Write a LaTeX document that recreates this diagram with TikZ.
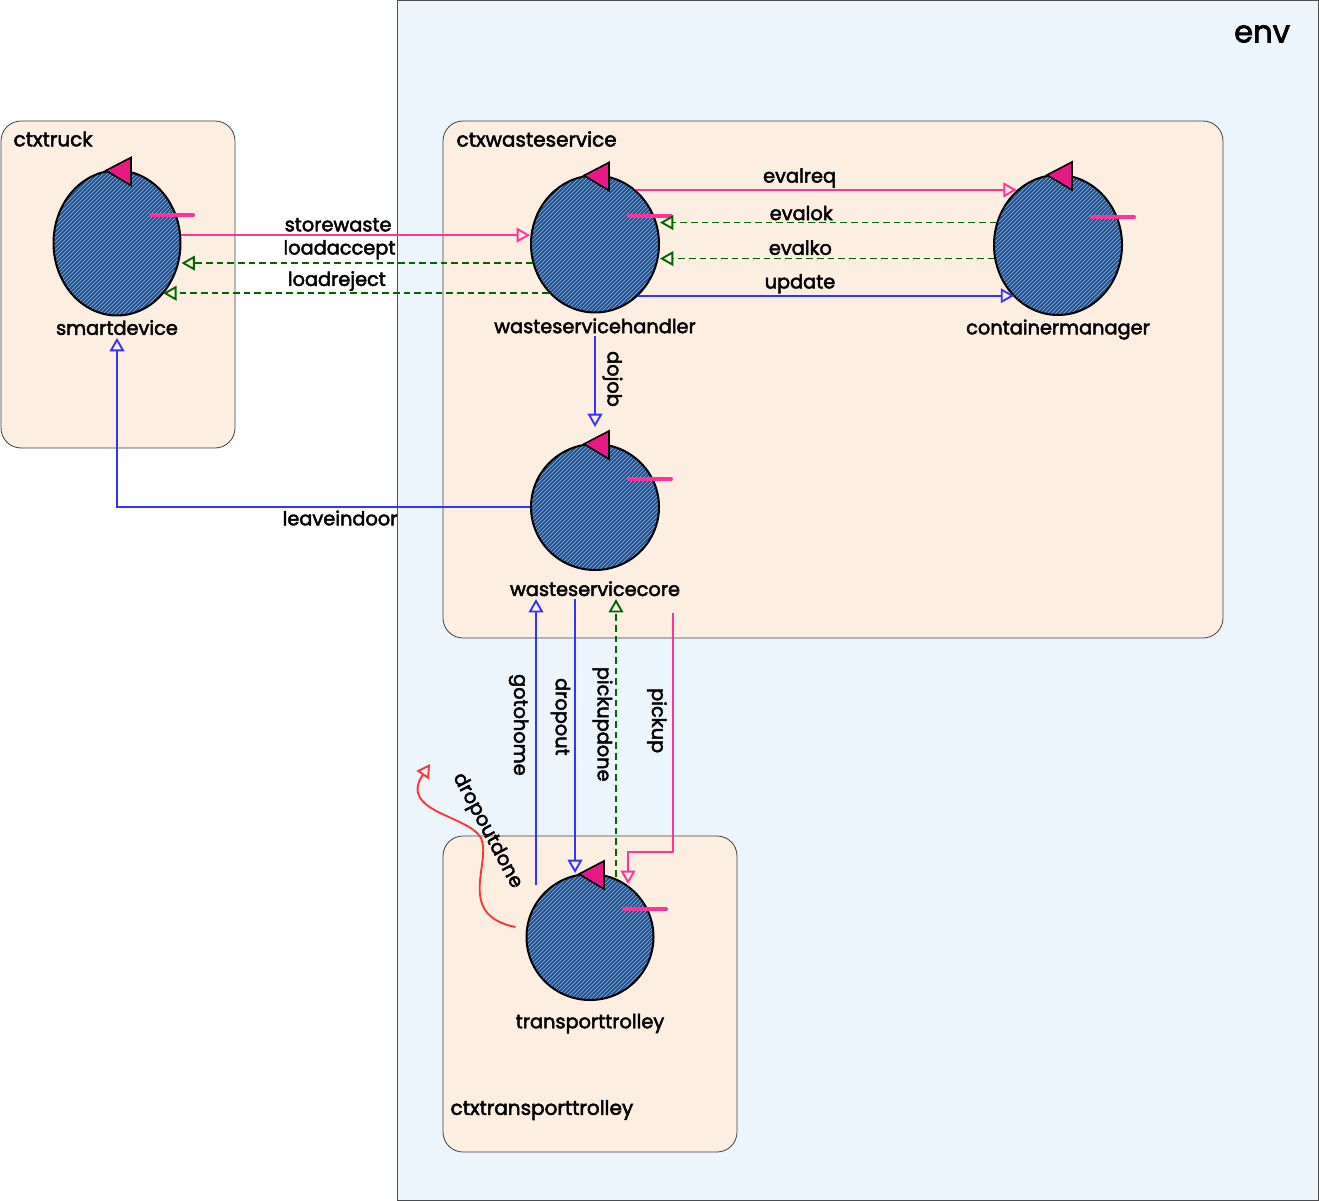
\documentclass[tikz,border=0pt]{standalone}
\usepackage{fontspec}
\setmainfont{Poppins}
\newfontfamily\sketchfont{Poppins}[FakeBold=2.5]
\usepackage{tikz}
\usetikzlibrary{shapes.geometric}
\usetikzlibrary{arrows}
\usetikzlibrary{arrows.meta}
\usetikzlibrary{positioning}
\usetikzlibrary{calc}
\usetikzlibrary{patterns}

\definecolor{envfill}{RGB}{236,244,252}
\definecolor{ctxfill}{RGB}{253,238,226}
\definecolor{actorblue}{RGB}{28,84,156}
\definecolor{tripink}{RGB}{232,24,133}
\definecolor{msgpink}{RGB}{255,51,153}
\definecolor{msggreen}{RGB}{0,102,0}
\definecolor{msgblue}{RGB}{51,51,255}
\definecolor{msgred}{RGB}{255,51,51}

\tikzset{
    ctxbox/.style = {draw=black!75, fill=ctxfill, rounded corners=15pt, line width=0.6pt},
    ctxlbl/.style = {anchor=west, font=\sketchfont\fontsize{15}{17}\selectfont, inner sep=1pt},
    actor/.style = {ellipse, draw=black, line width=1.5pt, preaction={fill=actorblue},
        pattern=north east lines, pattern color=white!55!actorblue, inner sep=0pt},
    actlbl/.style = {font=\sketchfont\fontsize{14.5}{16}\selectfont, inner sep=2pt},
    tri/.style = {draw=black, fill=tripink, line width=1.2pt, line join=miter},
    pinkbar/.style = {draw=msgpink, line width=3pt, line cap=round},
    lbl/.style = {font=\sketchfont\fontsize{14.5}{16}\selectfont, inner sep=2pt, text=black},
    msg/.style = {line width=1.4pt, -{Triangle[open, length=10pt, width=11pt]}},
    dashmsg/.style = {msg, dash pattern=on 5pt off 3pt}
}

% actor: name, x, y, width, height, label, gap
\newcommand{\actor}[7]{%
    \node[actor, minimum width=#4*0.75pt, minimum height=#5*0.75pt] (#1) at (#2,#3) {};
    \filldraw[tri] ($(#1.north)+(-11,1)$) -- ++(25,-13) -- ++(0,28) -- cycle;
    \draw[pinkbar] ($(#1)+(34,-28)$) -- ++(42,0);
    \node[actlbl, below=#7 of #1] (#1lbl) {#6};
}

\begin{document}
\begin{tikzpicture}[x=0.75pt, y=-0.75pt]
    \useasboundingbox (0,0) rectangle (1319,1201);

    % environment
    \draw[draw=black!70, fill=envfill, line width=0.6pt] (397,0) rectangle (1318.5,1200.5);
    \node[font=\sketchfont\fontsize{23}{25}\selectfont] (envlbl) at (1262,34) {env};

    % contexts
    \draw[ctxbox] (1,121) rectangle (235,448);
    \node[ctxlbl] (ctxtrucklbl) at (12,139) {ctxtruck};
    \draw[ctxbox] (443,121) rectangle (1223,638);
    \node[ctxlbl] (ctxwslbl) at (455,139) {ctxwasteservice};
    \draw[ctxbox] (443,836) rectangle (737,1152);
    \node[ctxlbl] (ctxttlbl) at (449,1110) {ctxtransporttrolley};

    % actors
    \actor{sd}{117}{243}{127}{145}{smartdevice}{0.5pt}
    \actor{wsh}{595}{244}{128}{137}{wasteservicehandler}{1.5pt}
    \actor{cm}{1058}{245}{128}{140}{containermanager}{0.5pt}
    \actor{wsc}{595}{507}{128}{126}{wasteservicecore}{5.5pt}
    \actor{tt}{590}{937}{127}{126}{transporttrolley}{7.5pt}

    % smartdevice <-> wasteservicehandler
    \draw[msg, msgpink] (sd.7) -- (sd.7 -| wsh.west)
        node[lbl, above, pos=0.45] {storewaste};
    \draw[dashmsg, msggreen] (wsh.197) -- (wsh.197 -| sd.east)
        node[lbl, above, pos=0.55] {loadaccept};
    \draw[dashmsg, msggreen] (wsh.227) -- (wsh.227 -| sd.-48)
        node[lbl, above, pos=0.55, inner sep=1pt] {loadreject};

    % wasteservicehandler <-> containermanager
    \draw[msg, msgpink] (wsh.53) -- (wsh.53 -| cm.127)
        node[lbl, above, pos=0.43, inner sep=1pt] {evalreq};
    \draw[dashmsg, msggreen] (cm.160) -- (cm.160 -| wsh.east)
        node[lbl, above, pos=0.58, inner sep=1pt] {evalok};
    \draw[dashmsg, msggreen] (cm.192) -- (cm.192 -| wsh.east)
        node[lbl, above, pos=0.58] {evalko};
    \draw[msg, msgblue] (wsh.-50) -- (wsh.-50 -| cm.-130)
        node[lbl, above, pos=0.43, inner sep=1pt] {update};

    % wasteservicehandler -> wasteservicecore -> smartdevice
    \draw[msg, msgblue, shorten >=12pt] (wshlbl.south) -- (wshlbl.south |- wsc.north)
        node[lbl, rotate=-90, anchor=south, inner sep=5pt, pos=0.4] {dojob};
    \draw[msg, msgblue] (wsc.west) -| (sdlbl.south)
        node[lbl, below, pos=0.23] {leaveindoor};

    % wasteservicecore <-> transporttrolley
    \coordinate (gh) at ($(tt.north)+(-54,12)$);
    \draw[msg, msgblue] (gh) -- (gh |- wsclbl.south)
        node[lbl, rotate=-90, anchor=north, inner sep=5pt, pos=0.56] {gotohome};
    \coordinate (dp) at ($(wsclbl.south)+(-20,0)$);
    \draw[msg, msgblue] (dp) -- (dp |- tt.north)
        node[lbl, rotate=-90, anchor=north, inner sep=3pt, pos=0.43] {dropout};
    \coordinate (pd) at ($(tt.north)+(26,4)$);
    \draw[dashmsg, msggreen] (pd) -- (pd |- wsclbl.south)
        node[lbl, rotate=-90, anchor=north, inner sep=2pt, pos=0.55] {pickupdone};
    \draw[msg, msgpink] ($(wsclbl.south)+(78,14)$) -- ++(0,239)
        node[lbl, rotate=-90, anchor=north, inner sep=4pt, pos=0.45] {pickup}
        -| ($(tt.north)+(38,11)$);

    % dropoutdone, free end
    \coordinate (ddend) at (430,764);
    \draw[msg, msgred] ($(tt.west)+(-10,-10)$) .. controls (455,915) and (492,862) .. (481,838)
        .. controls (468,815) and (398,812) .. (ddend);
    \node[lbl, rotate=-62] (ddlbl) at (487,831) {dropoutdone};
\end{tikzpicture}
\end{document}
